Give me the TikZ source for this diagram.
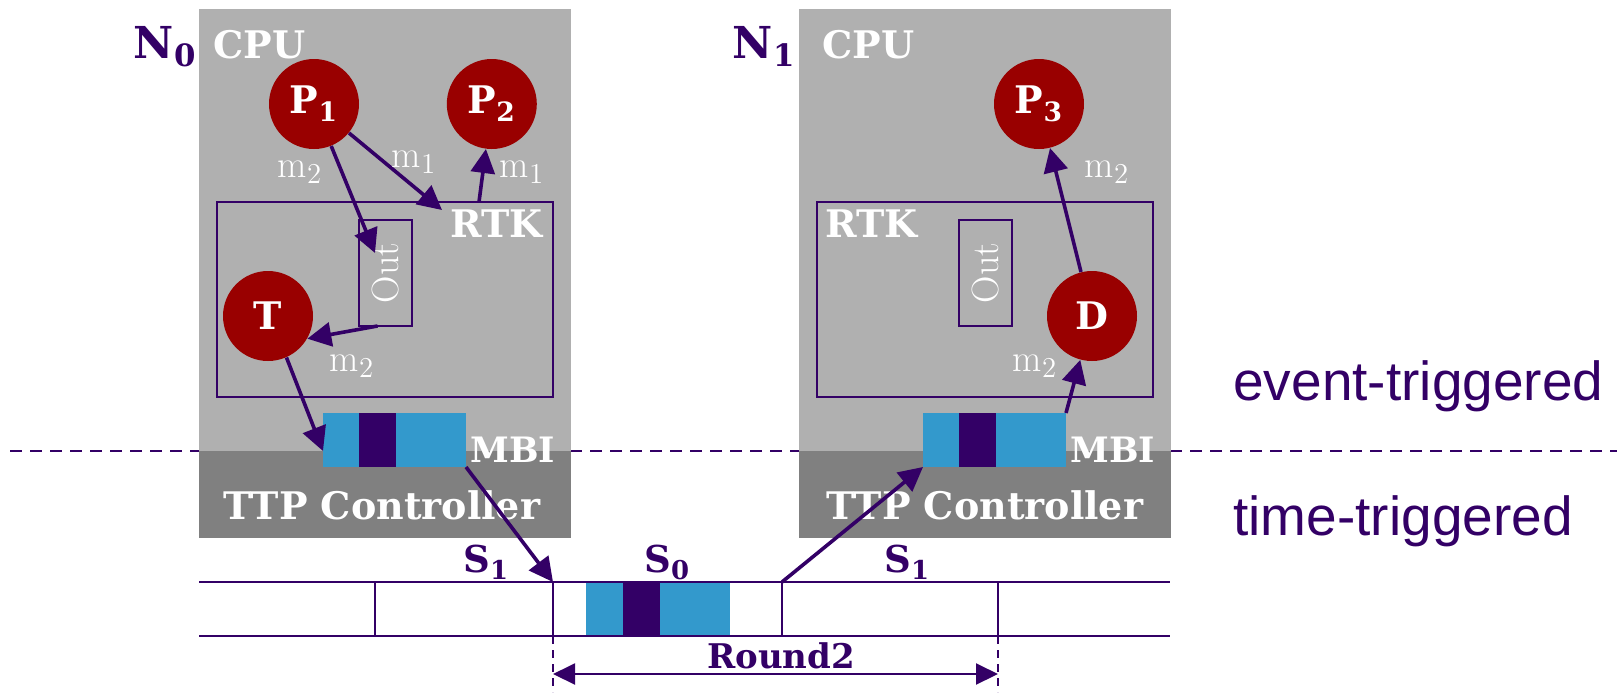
\documentclass[tikz,border=0pt]{standalone}
\usepackage{fontspec}
\usepackage{amsmath}
\usetikzlibrary{positioning,arrows.meta}
\newfontfamily\layersans{Liberation Sans}
\newfontfamily\diagserif{DejaVu Serif}
\definecolor{TTPurple}{HTML}{330066}
\definecolor{TTCpuGray}{HTML}{B0B0B0}
\definecolor{TTCtrlGray}{HTML}{808080}
\definecolor{TTRed}{HTML}{990000}
\definecolor{TTBlue}{HTML}{3399CC}
\tikzset{
  cpuBox/.style={
    fill=TTCpuGray,
    inner sep=0pt,
    outer sep=0pt,
    minimum width=186pt,
    minimum height=221pt,
    anchor=north west
  },
  ttpBox/.style={
    fill=TTCtrlGray,
    inner sep=0pt,
    outer sep=0pt,
    minimum width=186pt,
    minimum height=43.5pt,
    anchor=north west
  },
  rtkBox/.style={
    draw=TTPurple,
    line width=0.8pt,
    inner sep=0pt,
    outer sep=0pt,
    minimum width=168pt,
    minimum height=97.5pt,
    anchor=north west
  },
  outBox/.style={
    draw=TTPurple,
    line width=0.8pt,
    inner sep=0pt,
    outer sep=0pt,
    minimum width=26.5pt,
    minimum height=53pt,
    anchor=north west
  },
  outText/.style={
    text=white,
    inner sep=0pt,
    rotate=90,
    font=\fontsize{19pt}{21pt}\selectfont
  },
  procNode/.style={
    circle,
    fill=TTRed,
    text=white,
    inner sep=0pt,
    minimum size=45pt,
    font=\diagserif\fontsize{19pt}{21pt}\selectfont\bfseries
  },
  mbiSlot/.style={
    fill=TTBlue,
    inner sep=0pt,
    outer sep=0pt,
    minimum width=71.5pt,
    minimum height=27pt,
    anchor=north west
  },
  mbiMark/.style={
    fill=TTPurple,
    inner sep=0pt,
    outer sep=0pt,
    minimum width=18.5pt,
    minimum height=27pt,
    anchor=north west
  },
  whiteBold/.style={
    text=white,
    inner sep=0pt,
    font=\diagserif\fontsize{19pt}{21pt}\selectfont\bfseries
  },
  mbiText/.style={
    text=white,
    inner sep=0pt,
    font=\diagserif\fontsize{17.5pt}{20pt}\selectfont\bfseries
  },
  purpleBold/.style={
    text=TTPurple,
    inner sep=0pt,
    font=\diagserif\fontsize{18.5pt}{20pt}\selectfont\bfseries
  },
  nodeName/.style={
    text=TTPurple,
    inner sep=0pt,
    font=\diagserif\fontsize{22pt}{24pt}\selectfont\bfseries
  },
  msgLabel/.style={
    text=white,
    inner sep=0pt,
    font=\fontsize{19pt}{21pt}\selectfont
  },
  layerLabel/.style={
    text=TTPurple,
    inner sep=0pt,
    font=\layersans\fontsize{27.5pt}{30pt}\selectfont
  },
  msgArrow/.style={
    draw=TTPurple,
    line width=1.8pt,
    -{Triangle[length=12pt,width=12pt]}
  },
  slotLine/.style={
    draw=TTPurple,
    line width=1pt
  },
  layerLine/.style={
    draw=TTPurple,
    line width=0.8pt,
    dash pattern=on 6pt off 4pt
  },
  roundDash/.style={
    draw=TTPurple,
    line width=0.7pt,
    dash pattern=on 4pt off 3pt
  },
  roundArrow/.style={
    draw=TTPurple,
    line width=1pt,
    arrows={Triangle[length=11pt,width=10.5pt]-Triangle[length=11pt,width=10.5pt]}
  }
}

\begin{document}
\begin{tikzpicture}[x=0.5pt, y=-0.5pt]
  \useasboundingbox (0,0) rectangle (1623,692);

  % border between the two layers
  \coordinate (layerL) at (10,451);
  \coordinate (layerR) at (1617,451);
  \draw [layerLine] (layerL) -- (layerR);

  % node N0
  \node (cpu0) [cpuBox] at (199,9) {};
  \node (ttp0) [ttpBox] at (199,451) {};
  \node (n0) [nodeName, anchor=base east] at (197,58) {N\textsubscript{0}};
  \node (cpuLabel0) [whiteBold, anchor=base west] at (213,58) {CPU};
  \node (rtk0) [rtkBox] at (217,202) {};
  \node (rtkLabel0) [whiteBold, anchor=base east] at (543,237) {RTK};
  \node (out0) [outBox] at (359,220) {};
  \node (outLabel0) [outText] at (out0.center) {Out};
  \node (p1) [procNode] at (314,104) {P\textsubscript{1}};
  \node (p2) [procNode, right=43.5pt of p1] {P\textsubscript{2}};
  \node (t) [procNode] at (268,316) {T};
  \node (mbi0) [mbiSlot] at (323,413) {};
  \node (mbiMark0) [mbiMark] at (359,413) {};
  \node (mbiLabel0) [mbiText, anchor=base west] at (470,462) {MBI};
  \node (ttpLabel0) [whiteBold, anchor=base] at (382,519) {TTP Controller};

  % node N1
  \node (cpu1) [cpuBox] at (799,9) {};
  \node (ttp1) [ttpBox] at (799,451) {};
  \node (n1) [nodeName, anchor=base east] at (796,58) {N\textsubscript{1}};
  \node (cpuLabel1) [whiteBold, anchor=base west] at (822,58) {CPU};
  \node (rtk1) [rtkBox] at (817,202) {};
  \node (rtkLabel1) [whiteBold, anchor=base west] at (825,237) {RTK};
  \node (out1) [outBox] at (959,220) {};
  \node (outLabel1) [outText] at (out1.center) {Out};
  \node (p3) [procNode] at (1039,104) {P\textsubscript{3}};
  \node (d) [procNode] at (1092,316) {D};
  \node (mbi1) [mbiSlot] at (923,413) {};
  \node (mbiMark1) [mbiMark] at (959,413) {};
  \node (mbiLabel1) [mbiText, anchor=base west] at (1070,462) {MBI};
  \node (ttpLabel1) [whiteBold, anchor=base] at (985,519) {TTP Controller};

  % layer names
  \node (etLabel) [layerLabel, anchor=base west] at (1233,400) {event-triggered};
  \node (ttLabel) [layerLabel, anchor=base west] at (1233,535) {time-triggered};

  % TDMA bus
  \node (slot) [mbiSlot, minimum width=72pt] at (586,582) {};
  \node (slotMark) [mbiMark] at (623,582) {};
  \coordinate (busTopL) at (199,582);
  \coordinate (busTopR) at (1170,582);
  \coordinate (busBotL) at (199,636);
  \coordinate (busBotR) at (1170,636);
  \draw [slotLine] (busTopL) -- (busTopR);
  \draw [slotLine] (busBotL) -- (busBotR);
  \coordinate (tickA) at (375,582);
  \coordinate (tickB) at (553,582);
  \coordinate (tickC) at (782,582);
  \coordinate (tickD) at (998,582);
  \draw [slotLine] (tickA) -- (tickA |- busBotL);
  \draw [slotLine] (tickB) -- (tickB |- busBotL);
  \draw [slotLine] (tickC) -- (tickC |- busBotL);
  \draw [slotLine] (tickD) -- (tickD |- busBotL);
  \node (s1a) [purpleBold, anchor=base west] at (463,572) {S\textsubscript{1}};
  \node (s0) [purpleBold, anchor=base west] at (644,572) {S\textsubscript{0}};
  \node (s1b) [purpleBold, anchor=base west] at (884,572) {S\textsubscript{1}};

  % round
  \coordinate (roundL) at (553,674);
  \coordinate (roundR) at (998,674);
  \coordinate (dashEndL) at (553,692);
  \coordinate (dashEndR) at (998,692);
  \draw [roundDash] (tickB |- busBotL) -- (dashEndL);
  \draw [roundDash] (tickD |- busBotL) -- (dashEndR);
  \draw [roundArrow] (roundL) -- (roundR);
  \node (round) [purpleBold, font=\diagserif\fontsize{17pt}{19pt}\selectfont\bfseries, anchor=base] at (781,668) {Round2};

  % messages in N0
  \coordinate (rtkIn0) at (442,210);
  \coordinate (rtkOut0) at (479,202);
  \coordinate (outIn0) at (375,253);
  \draw [msgArrow] (p1) -- (rtkIn0);
  \draw [msgArrow] (rtkOut0) -- (p2);
  \draw [msgArrow] (p1) -- (outIn0);
  \draw [msgArrow] ([xshift=-4pt]out0.south) -- (t.-30);
  \draw [msgArrow] (t.-66) -- ([yshift=8pt]mbi0.south west);
  \node (m2a) [msgLabel] at (300,172) {$\mathrm{m}_2$};
  \node (m1a) [msgLabel] at (414,162) {$\mathrm{m}_1$};
  \node (m1b) [msgLabel] at (522,172) {$\mathrm{m}_1$};
  \node (m2b) [msgLabel] at (352,366) {$\mathrm{m}_2$};

  % over the bus
  \draw [msgArrow] (mbi0.south east) -- (tickB);
  \draw [msgArrow] (tickC) -- (mbi1.south west);

  % messages in N1
  \draw [msgArrow] (mbi1.north east) -- (d);
  \draw [msgArrow] (d) -- (p3);
  \node (m2c) [msgLabel] at (1035,366) {$\mathrm{m}_2$};
  \node (m2d) [msgLabel] at (1107,172) {$\mathrm{m}_2$};
\end{tikzpicture}
\end{document}
